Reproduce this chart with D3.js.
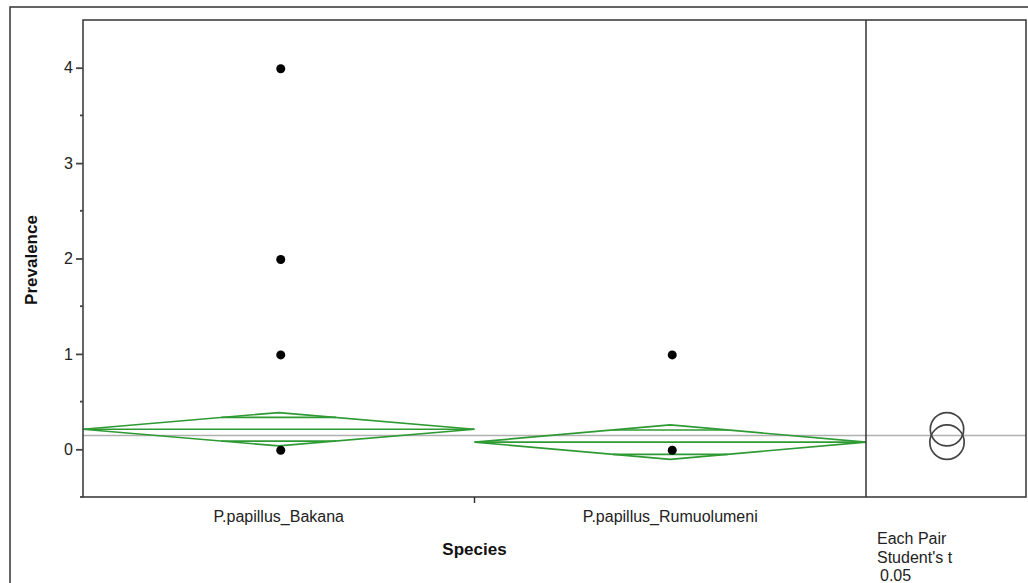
<!DOCTYPE html>
<meta charset="utf-8">
<html>
  <style>
    body, html{ margin: 0; background: #fff;}
    svg{ display: block; font-family: "Liberation Sans", Arial, sans-serif;}
    .frame{ stroke: #333; stroke-width: 1.5; fill: none;}
    .axis path, .axis line{ stroke: #444; stroke-width: 1.8;}
    .axis text{ font-size: 16px; fill: #222;}
    .diamond{ stroke: #2e9a33; stroke-width: 1.7; fill: none;}
    .grand{ stroke: #b0b0b0; stroke-width: 1.5;}
    .pt{ fill: #000;}
    .circ{ stroke: #444; stroke-width: 1.7; fill: none;}
    .lbl{ font-size: 16px; fill: #222;}
    .title{ font-size: 17px; font-weight: bold; fill: #111;}
  </style>
  <body>
    <svg></svg>
    <script src="https://cdn.jsdelivr.net/npm/d3@7"></script>
    <script>
// data
var categories = ['P.papillus_Bakana', 'P.papillus_Rumuolumeni']
  , points = [
      {cat: 'P.papillus_Bakana', v: 4},
      {cat: 'P.papillus_Bakana', v: 2},
      {cat: 'P.papillus_Bakana', v: 1},
      {cat: 'P.papillus_Bakana', v: 0},
      {cat: 'P.papillus_Rumuolumeni', v: 1},
      {cat: 'P.papillus_Rumuolumeni', v: 0}
    ]
  , means = [0.21, 0.075]
  , ciHalf = [0.175, 0.18]
  , grandMean = 0.145
  , yTicks = [0, 1, 2, 3, 4]
  , yMinor = [-0.5, 0.5, 1.5, 2.5, 3.5]
  , testLines = ['Each Pair', "Student's t", '0.05']

var w = 1028, h = 583
  , L = 83, T = 20, R = 866, B = 497, RP = 1026
  , svg = d3.select('svg').attr('width', w).attr('height', h)

var x = d3.scaleBand().domain(categories).range([L, R])
  , y = d3.scaleLinear().domain([-0.5, 4.5]).range([B, T])

// outer frame
svg.append('path').attr('class', 'frame').attr('d', 'M10,583 V7 H1028')

// grand mean line
svg.append('line').attr('class', 'grand')
  .attr('x1', L).attr('x2', RP).attr('y1', y(grandMean)).attr('y2', y(grandMean))

// means diamonds
categories.forEach(function(c, i){
  var x0 = x(c), x1 = x(c) + x.bandwidth(), xc = x0 + x.bandwidth() / 2
    , m = means[i], hw = ciHalf[i], g = svg.append('g').attr('class', 'diamond')
  g.append('path').attr('d', 'M' + x0 + ',' + y(m) + ' L' + xc + ',' + y(m + hw)
    + ' L' + x1 + ',' + y(m) + ' L' + xc + ',' + y(m - hw) + 'Z')
  g.append('line').attr('x1', x0).attr('x2', x1).attr('y1', y(m)).attr('y2', y(m))
  // overlap marks
  var o = hw / Math.SQRT2, dx = x.bandwidth() / 2 * (1 - o / hw)
  ;[m + o, m - o].forEach(function(v){
    g.append('line').attr('x1', xc - dx).attr('x2', xc + dx).attr('y1', y(v)).attr('y2', y(v))
  })
})

// points
svg.selectAll('.pt').data(points).enter().append('circle')
  .attr('class', 'pt').attr('r', 4.5)
  .attr('cx', function(d){ return x(d.cat) + x.bandwidth() / 2 + 2 })
  .attr('cy', function(d){ return y(d.v) + 1 })

// comparison circles
var cx = (R + RP) / 2 + 1
svg.selectAll('.circ').data(means).enter().append('circle')
  .attr('class', 'circ').attr('cx', cx)
  .attr('cy', function(d){ return y(d) })
  .attr('r', function(d, i){ return y(0) - y(ciHalf[i]) })

// plot frames
svg.append('rect').attr('class', 'frame').attr('x', L).attr('y', T)
  .attr('width', RP - L).attr('height', B - T)
svg.append('line').attr('class', 'frame').attr('x1', R).attr('x2', R).attr('y1', T).attr('y2', B)

// y axis
var ya = svg.append('g').attr('class', 'axis').attr('transform', 'translate(' + L + ',0)')
  .call(d3.axisLeft(y).tickValues(yTicks).tickSize(7).tickPadding(3).tickFormat(d3.format('d')))
ya.select('.domain').remove()
ya.selectAll('.minor').data(yMinor).enter().append('line').attr('class', 'minor')
  .attr('x1', -3).attr('x2', 0).attr('y1', function(d){ return y(d) }).attr('y2', function(d){ return y(d) })

// x axis tick between groups
svg.append('line').attr('class', 'frame')
  .attr('x1', x(categories[1])).attr('x2', x(categories[1])).attr('y1', B).attr('y2', B + 6)
svg.selectAll('.xl').data(categories).enter().append('text').attr('class', 'lbl')
  .attr('x', function(d){ return x(d) + x.bandwidth() / 2 }).attr('y', 522)
  .attr('text-anchor', 'middle').text(function(d){ return d })

svg.append('text').attr('class', 'title').attr('x', (L + R) / 2).attr('y', 555)
  .attr('text-anchor', 'middle').text('Species')
svg.append('text').attr('class', 'title')
  .attr('transform', 'translate(37,260) rotate(-90)')
  .attr('text-anchor', 'middle').text('Prevalence')

svg.selectAll('.tl').data(testLines).enter().append('text').attr('class', 'lbl')
  .attr('x', function(d, i){ return i == 2 ? 880 : 877 })
  .attr('y', function(d, i){ return 544 + i * 18.5 })
  .text(function(d){ return d })
    </script>
  </body>
</html>
